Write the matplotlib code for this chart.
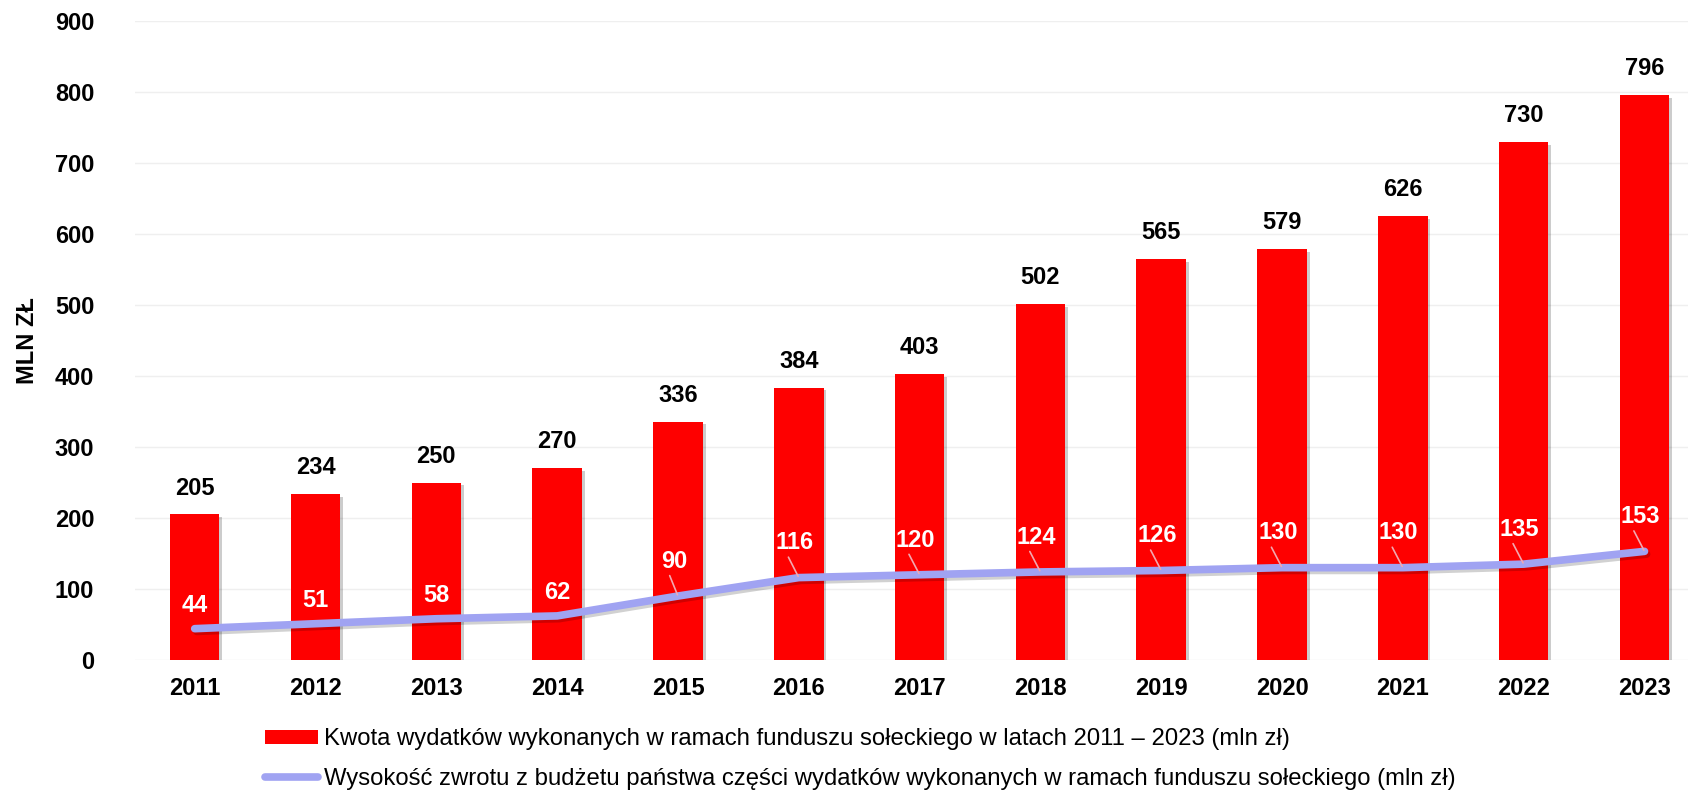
import matplotlib
matplotlib.use('Agg')
import matplotlib.pyplot as plt
import matplotlib.patheffects as pe
from matplotlib.lines import Line2D
from matplotlib.patches import Patch
import numpy as np

plt.rcParams['font.family'] = ['Liberation Sans', 'DejaVu Sans']

years = ['2011', '2012', '2013', '2014', '2015', '2016', '2017',
         '2018', '2019', '2020', '2021', '2022', '2023']
wydatki = [205, 234, 250, 270, 336, 384, 403, 502, 565, 579, 626, 730, 796]
zwrot = [44, 51, 58, 62, 90, 116, 120, 124, 126, 130, 130, 135, 153]

label_bar = 'Kwota wydatków wykonanych w ramach funduszu sołeckiego w latach 2011 – 2023 (mln zł)'
label_line = 'Wysokość zwrotu z budżetu państwa części wydatków wykonanych w ramach funduszu sołeckiego (mln zł)'

red = '#fe0000'
lilac = '#a0a3f2'

fig = plt.figure(figsize=(16.88, 7.96), dpi=100)
ax = fig.add_axes([0.0797, 0.171, 0.9203, 0.802])

x = np.arange(len(years))
shadow = [pe.SimplePatchShadow(offset=(2, -2), shadow_rgbFace='k', alpha=0.2), pe.Normal()]
bars = ax.bar(x, wydatki, width=0.41, color=red, zorder=2)
for b in bars:
    b.set_path_effects(shadow)

ax.plot(x, zwrot, color=lilac, lw=5.5, solid_capstyle='round', solid_joinstyle='round', zorder=3,
        path_effects=[pe.SimpleLineShadow(offset=(1.5, -2), alpha=0.18), pe.Normal()])

# etykiety słupków
for xi, v in zip(x, wydatki):
    ax.annotate(str(v), (xi, v), xytext=(0, 19), textcoords='offset points',
                ha='center', va='center', fontsize=17, fontweight='bold', color='black')

# etykiety linii
for i, (xi, v) in enumerate(zip(x, zwrot)):
    if i < 4:
        ax.annotate(str(v), (xi, v), xytext=(0, 17), textcoords='offset points',
                    ha='center', va='center', fontsize=17, fontweight='bold', color='white', zorder=5)
    else:
        ax.annotate(str(v), (xi, v), xytext=(-3, 25), textcoords='offset points',
                    ha='center', va='center', fontsize=17, fontweight='bold', color='white', zorder=5,
                    arrowprops=dict(arrowstyle='-', color='#f2a8b0', lw=1.2, shrinkA=0, shrinkB=1,
                                    relpos=(0.3, 0.0)))

ax.set_xlim(-0.498, 12.36)
ax.set_ylim(0, 900)
ax.set_yticks(np.arange(0, 901, 100))
ax.set_xticks(x)
ax.set_xticklabels(years)
ax.tick_params(axis='both', length=0, labelsize=17)
ax.tick_params(axis='y', pad=29)
ax.tick_params(axis='x', pad=12)
for lbl in ax.get_xticklabels() + ax.get_yticklabels():
    lbl.set_fontweight('bold')
ax.grid(axis='y', color='#efefef', lw=1, zorder=0)
ax.set_axisbelow(True)
for s in ax.spines.values():
    s.set_visible(False)

ax.set_ylabel('MLN ZŁ', fontsize=17, fontweight='bold')
ax.yaxis.set_label_coords(-0.0615, 0.5)

handles = [Patch(facecolor=red, edgecolor='none'),
           Line2D([0], [0], color=lilac, lw=5.5, solid_capstyle='round')]
fig.legend(handles, [label_bar, label_line], loc='upper left', bbox_to_anchor=(0.157, 0.085),
           frameon=False, fontsize=17.2, handlelength=2.2, handleheight=0.55, handletextpad=0.25,
           labelspacing=0.72, borderpad=0, borderaxespad=0)

fig.savefig('out.png', dpi=100)
